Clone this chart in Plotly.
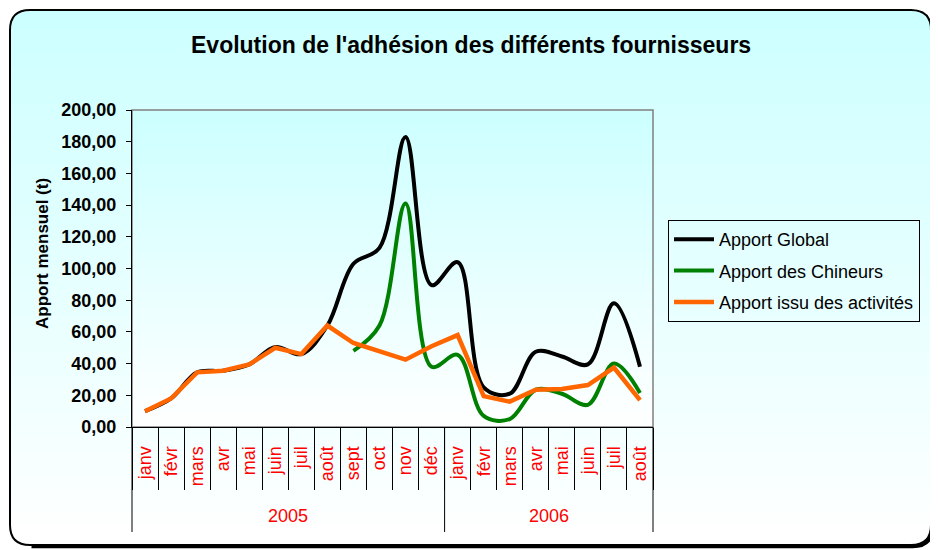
import plotly.graph_objects as go

# ---------------- data ----------------
months = ["janv", "févr", "mars", "avr", "mai", "juin", "juil", "août", "sept", "oct", "nov", "déc",
          "janv", "févr", "mars", "avr", "mai", "juin", "juil", "août"]
years = ["2005", "2006"]
months_per_year = [12, 8]

apport_global = [10, 18, 34.5, 35.5, 39.5, 50.5, 46, 64, 103, 113, 183, 89.5,
                 104, 25, 21, 47.5, 44.5, 39.5, 78, 38]
apport_chineurs = [None, None, None, None, None, None, None, None, 48, 64, 141, 38,
                   45.5, 7, 5, 23.5, 21, 14, 40, 21.5]
apport_activites = [10, 18, 34.5, 35.5, 39.5, 50, 46, 64, 53, 48, 42.5, 51,
                    58, 19.5, 16, 23.5, 24, 26.5, 37.5, 17]

y_ticks = [0, 20, 40, 60, 80, 100, 120, 140, 160, 180, 200]

# ---------------- geometry helpers (layout only) ----------------
OFF = 8                 # page body margin of the html page
W, H = 938 - OFF, 550 - OFF
L, R, T, B = 132, 653, 110, 427  # plot area in page pixels


def px(x):
    return (x - L) / (R - L)


def py(y):
    return (B - y) / (B - T)


FONT = "Liberation Sans, Arial, sans-serif"
idx = list(range(len(months)))

fig = go.Figure()
fig.add_trace(go.Scatter(x=idx, y=apport_global, name="Apport Global", mode="lines",
                         line=dict(color="#000000", width=4, shape="spline", smoothing=1),
                         legendgroup="a"))
fig.add_trace(go.Scatter(x=idx, y=apport_chineurs, name="Apport des Chineurs", mode="lines",
                         line=dict(color="#008000", width=4, shape="spline", smoothing=1),
                         legendgroup="b"))
fig.add_trace(go.Scatter(x=idx, y=apport_activites, name="Apport issu des activités", mode="lines",
                         line=dict(color="#FF6600", width=4.5),
                         legendgroup="c"))

shapes = []


def hexcol(t, c0=(204, 255, 255), c1=(255, 255, 255)):
    r = round(c0[0] + (c1[0] - c0[0]) * t)
    g = round(c0[1] + (c1[1] - c0[1]) * t)
    b = round(c0[2] + (c1[2] - c0[2]) * t)
    return f"rgb({r},{g},{b})"


# outer chart area: shadow, gradient, border
ox0, oy0, ox1, oy1, rad = 10, 10, 931, 545, 20
sh = 1.5
shadow_path = (f"M {px(ox1+sh)},{py(oy0+rad+sh)} L {px(ox1+sh)},{py(oy1-rad+sh)} "
               f"Q {px(ox1+sh)},{py(oy1+sh)} {px(ox1-rad+sh)},{py(oy1+sh)} "
               f"L {px(ox0+rad+sh)},{py(oy1+sh)}")
shapes.append(dict(type="path", xref="paper", yref="paper", path=shadow_path,
                   line=dict(color="black", width=3.5), layer="below"))

top_cap = (f"M {px(ox0)},{py(oy0+rad)} Q {px(ox0)},{py(oy0)} {px(ox0+rad)},{py(oy0)} "
           f"L {px(ox1-rad)},{py(oy0)} Q {px(ox1)},{py(oy0)} {px(ox1)},{py(oy0+rad)} Z")
shapes.append(dict(type="path", xref="paper", yref="paper", path=top_cap,
                   fillcolor=hexcol(0), line=dict(width=0), layer="below"))
N = 40
span = (oy1 - rad) - (oy0 + rad)
for i in range(N):
    ya = oy0 + rad + span * i / N
    yb = oy0 + rad + span * (i + 1) / N + 0.6
    t = ((ya + yb) / 2 - oy0) / (oy1 - oy0)
    shapes.append(dict(type="rect", xref="paper", yref="paper",
                       x0=px(ox0), x1=px(ox1), y0=py(ya), y1=py(yb),
                       fillcolor=hexcol(t), line=dict(width=0), layer="below"))
bot_cap = (f"M {px(ox0)},{py(oy1-rad)} Q {px(ox0)},{py(oy1)} {px(ox0+rad)},{py(oy1)} "
           f"L {px(ox1-rad)},{py(oy1)} Q {px(ox1)},{py(oy1)} {px(ox1)},{py(oy1-rad)} Z")
shapes.append(dict(type="path", xref="paper", yref="paper", path=bot_cap,
                   fillcolor=hexcol(1), line=dict(width=0), layer="below"))
border = (f"M {px(ox0)},{py(oy0+rad)} Q {px(ox0)},{py(oy0)} {px(ox0+rad)},{py(oy0)} "
          f"L {px(ox1-rad)},{py(oy0)} Q {px(ox1)},{py(oy0)} {px(ox1)},{py(oy0+rad)} "
          f"L {px(ox1)},{py(oy1-rad)} Q {px(ox1)},{py(oy1)} {px(ox1-rad)},{py(oy1)} "
          f"L {px(ox0+rad)},{py(oy1)} Q {px(ox0)},{py(oy1)} {px(ox0)},{py(oy1-rad)} Z")
shapes.append(dict(type="path", xref="paper", yref="paper", path=border,
                   line=dict(color="black", width=2), layer="below"))

# plot area gradient
NP = 40
for i in range(NP):
    ya = i / NP
    yb = (i + 1) / NP + 0.003
    shapes.append(dict(type="rect", xref="paper", yref="paper",
                       x0=0, x1=1, y0=1 - yb, y1=1 - ya,
                       fillcolor=hexcol((ya + yb) / 2), line=dict(width=0), layer="below"))
shapes.append(dict(type="rect", xref="paper", yref="paper", x0=0, x1=1, y0=0, y1=1,
                   line=dict(color="#808080", width=1.5), layer="below"))

# year dividers (boundaries of the year groups)
bounds = [0]
for n in months_per_year:
    bounds.append(bounds[-1] + n)
for b_ in bounds:
    shapes.append(dict(type="line", xref="paper", yref="paper",
                       x0=b_ / len(months), x1=b_ / len(months), y0=0, y1=py(532),
                       line=dict(color="black", width=1)))

annotations = []
for yr, a, b_ in zip(years, bounds[:-1], bounds[1:]):
    annotations.append(dict(x=(a + b_ - 1) / 2, xref="x", y=py(516), yref="paper",
                            xanchor="center", yanchor="middle",
                            text=yr, showarrow=False,
                            font=dict(family=FONT, size=18, color="#FF0000")))
annotations.append(dict(x=px(471), y=py(45), xref="paper", yref="paper",
                        xanchor="center", yanchor="middle",
                        text="<b>Evolution de l'adhésion des différents fournisseurs</b>",
                        showarrow=False, font=dict(family=FONT, size=23, color="black")))
annotations.append(dict(x=px(43), y=py(254), xref="paper", yref="paper",
                        xanchor="center", yanchor="middle",
                        text="<b>Apport mensuel (t)</b>", textangle=-90,
                        showarrow=False, font=dict(family=FONT, size=17, color="black")))

fig.update_layout(
    width=W, height=H,
    margin=dict(l=L - OFF, r=W - (R - OFF), t=T - OFF, b=H - (B - OFF), autoexpand=False),
    paper_bgcolor="white", plot_bgcolor="rgba(0,0,0,0)",
    separators=", ",
    font=dict(family=FONT, color="black"),
    showlegend=True,
    legend=dict(x=px(668), y=py(220), xanchor="left", yanchor="top",
                bgcolor="rgba(0,0,0,0)", bordercolor="black", borderwidth=1,
                font=dict(family=FONT, size=18, color="black"),
                itemwidth=40,
                traceorder="grouped", tracegroupgap=5),
    shapes=shapes,
    annotations=annotations,
    xaxis=dict(range=[-0.5, len(months) - 0.5], tickmode="array", tickvals=idx, ticktext=months,
               tickangle=-90, tickfont=dict(family=FONT, size=18, color="#FF0000"),
               ticks="", ticklabelstandoff=11, showgrid=False, zeroline=False,
               showline=True, linecolor="black", linewidth=1,
               minor=dict(tickmode="array", tickvals=[i - 0.5 for i in range(len(months) + 1)],
                          ticks="outside", ticklen=62, tickcolor="black", tickwidth=1,
                          showgrid=False)),
    yaxis=dict(range=[0, 200], tickmode="array", tickvals=y_ticks, tickformat=".2f",
               tickfont=dict(family=FONT, size=18, color="black", weight="bold"),
               ticks="outside", ticklen=5, tickcolor="black", ticklabelstandoff=6,
               showgrid=False, zeroline=False, showline=True, linecolor="black", linewidth=1),
)

fig.write_html("out.html")
